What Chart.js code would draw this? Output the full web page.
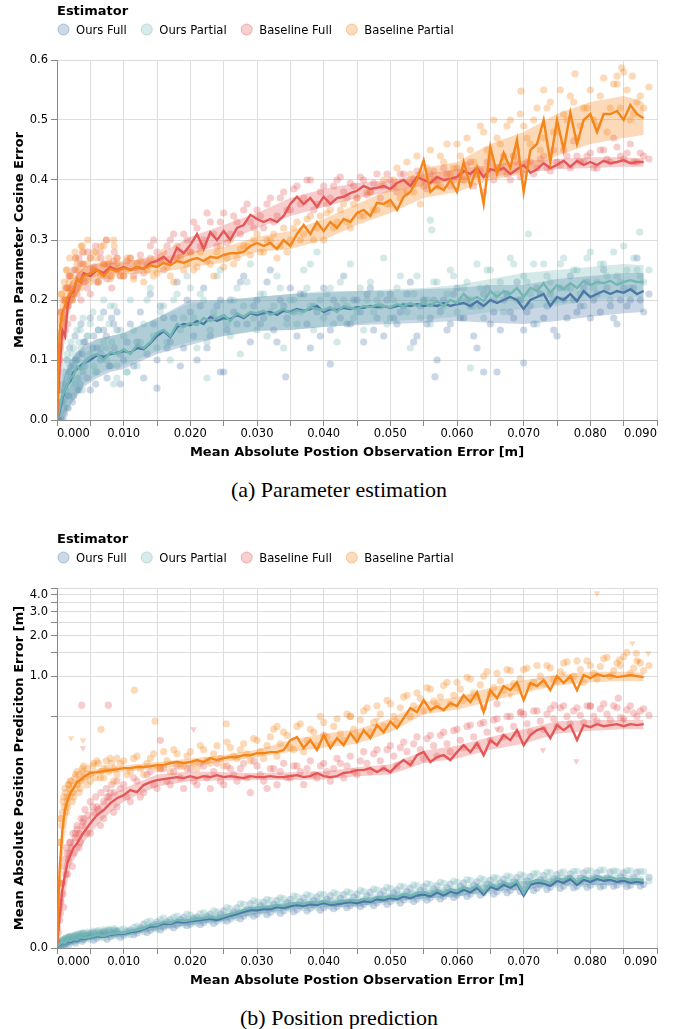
<!DOCTYPE html>
<html>
<head>
<meta charset="utf-8">
<title>Estimator comparison</title>
<script src="https://cdn.jsdelivr.net/npm/chart.js@4.4.1/dist/chart.umd.min.js"></script>
<style>
html,body{margin:0;padding:0;background:#fff;width:678px;height:1029px;overflow:hidden;position:relative;}
#c1{position:absolute;left:0;top:0;}
#c2{position:absolute;left:0;top:528px;}
.cap{position:absolute;left:0;width:678px;text-align:center;font-family:"Liberation Serif","Times New Roman",serif;font-size:22px;line-height:26px;color:#000;}
</style>
</head>
<body>
<canvas id="c1" width="678" height="470"></canvas>
<div class="cap" style="top:477px">(a) Parameter estimation</div>
<canvas id="c2" width="678" height="470"></canvas>
<div class="cap" style="top:1005px">(b) Position prediction</div>
<script>
// ================= DATA =================
const LEGEND_TITLE = 'Estimator';
const SERIES = ['Ours Full', 'Ours Partial', 'Baseline Full', 'Baseline Partial'];
const X_TITLE = 'Mean Absolute Postion Observation Error [m]';
const YA_TITLE = 'Mean Parameter Cosine Error';
const YB_TITLE = 'Mean Absolute Position Prediciton Error [m]';

const XTICKS = [0,0.005,0.01,0.015,0.02,0.025,0.03,0.035,0.04,0.045,0.05,0.055,0.06,0.065,0.07,0.075,0.08,0.085,0.09];
const XLABELS = ['0.000','','0.010','','0.020','','0.030','','0.040','','0.050','','0.060','','0.070','','0.080','','0.090'];
const YA_TICKS = [0,0.1,0.2,0.3,0.4,0.5,0.6];
const YA_LABELS = ['0.0','0.1','0.2','0.3','0.4','0.5','0.6'];
const YB_TICKS = [0,0.5,1,1.5,2,2.5,3,3.5,4,4.5];
const YB_LABELS = ['0.0','','1.0','','2.0','','3.0','','4.0',''];

// x positions of the mean lines (and first scatter group)
const X = [0,0.0004,0.0008,0.0012,0.0016,0.002,0.0025,0.003,0.0035,0.004,0.005,0.006,0.007,0.008,0.009,
0.010,0.011,0.012,0.013,0.014,0.015,0.016,0.017,0.018,0.019,
0.020,0.021,0.022,0.023,0.024,0.025,0.026,0.027,0.028,0.029,
0.030,0.031,0.032,0.033,0.034,0.035,0.036,0.037,0.038,0.039,
0.040,0.041,0.042,0.043,0.044,0.045,0.046,0.047,0.048,0.049,
0.050,0.051,0.052,0.053,0.054,0.055,0.056,0.057,0.058,0.059,
0.060,0.061,0.062,0.063,0.064,0.065,0.066,0.067,0.068,0.069,
0.070,0.071,0.072,0.073,0.074,0.075,0.076,0.077,0.078,0.079,
0.080,0.081,0.082,0.083,0.084,0.085,0.086,0.087,0.088];
// x positions of the second scatter group
const SX = [0.0002,0.0006,0.001,0.0014,0.0018,0.0023,0.0028,0.0033,0.0038,0.0045,0.0055,0.0065,0.0075,0.0085,0.0095,
0.0105,0.0115,0.0125,0.0135,0.0145,0.0155,0.0165,0.0175,0.0185,0.0195,
0.0205,0.0215,0.0225,0.0235,0.0245,0.0255,0.0265,0.0275,0.0285,0.0295,
0.0305,0.0315,0.0325,0.0335,0.0345,0.0355,0.0365,0.0375,0.0385,0.0395,
0.0405,0.0415,0.0425,0.0435,0.0445,0.0455,0.0465,0.0475,0.0485,0.0495,
0.0505,0.0515,0.0525,0.0535,0.0545,0.0555,0.0565,0.0575,0.0585,0.0595,
0.0605,0.0615,0.0625,0.0635,0.0645,0.0655,0.0665,0.0675,0.0685,0.0695,
0.0705,0.0715,0.0725,0.0735,0.0745,0.0755,0.0765,0.0775,0.0785,0.0795,
0.0805,0.0815,0.0825,0.0835,0.0845,0.0855,0.0865,0.0875,0.0888];
// x positions of the dense low-error scatter group
const LX = [0.0001,0.0003,0.0005,0.0007,0.0009,0.0011,0.0013,0.0015,0.0017,0.0019,0.0021,0.0024,0.0027,0.003,0.0033,
0.0036,0.0039,0.0042,0.0046,0.005,0.0054,0.0058,0.0062,0.0066,0.007,0.0074,0.0078,0.0082,0.0086,0.009];
// x positions of the confidence band edges
const BX = [0,0.001,0.002,0.004,0.006,0.008,0.01,0.015,0.02,0.025,0.03,0.035,0.04,0.045,0.05,0.055,0.06,0.065,0.07,0.075,0.08,0.085,0.088];

// ---------- (a) Parameter estimation ----------
const A_OF = [0.0,0.015,0.035,0.05,0.06,0.065,0.08,0.085,0.09,0.095,0.1,0.108,0.105,0.11,0.112,
0.115,0.112,0.12,0.118,0.128,0.14,0.148,0.138,0.155,0.16,
0.158,0.165,0.16,0.172,0.165,0.17,0.168,0.175,0.17,0.178,
0.175,0.178,0.18,0.175,0.182,0.18,0.185,0.182,0.185,0.19,
0.18,0.185,0.183,0.187,0.185,0.188,0.187,0.19,0.188,0.19,
0.187,0.19,0.192,0.19,0.193,0.19,0.192,0.19,0.195,0.19,
0.193,0.195,0.19,0.198,0.19,0.2,0.195,0.2,0.205,0.2,
0.185,0.2,0.205,0.21,0.19,0.205,0.2,0.21,0.198,0.215,
0.205,0.21,0.215,0.21,0.215,0.212,0.218,0.21,0.215];
const A_OP = [0.0,0.02,0.04,0.05,0.06,0.07,0.075,0.09,0.085,0.095,0.105,0.11,0.10,0.113,0.11,
0.118,0.11,0.125,0.12,0.13,0.145,0.15,0.14,0.16,0.155,
0.162,0.158,0.17,0.165,0.17,0.175,0.165,0.178,0.172,0.18,
0.178,0.182,0.175,0.18,0.185,0.178,0.183,0.18,0.188,0.185,
0.183,0.188,0.18,0.19,0.187,0.185,0.19,0.188,0.192,0.19,
0.188,0.193,0.19,0.195,0.19,0.195,0.19,0.198,0.19,0.2,
0.195,0.21,0.2,0.205,0.198,0.215,0.205,0.215,0.21,0.22,
0.205,0.22,0.215,0.228,0.212,0.225,0.218,0.228,0.22,0.232,
0.225,0.23,0.228,0.232,0.225,0.23,0.233,0.23,0.23];
const A_BF = [0.005,0.09,0.15,0.14,0.19,0.21,0.215,0.235,0.23,0.245,0.24,0.25,0.245,0.255,0.25,
0.255,0.25,0.255,0.252,0.262,0.265,0.272,0.262,0.287,0.278,
0.292,0.31,0.285,0.313,0.30,0.315,0.30,0.32,0.325,0.342,
0.335,0.33,0.335,0.33,0.34,0.36,0.372,0.36,0.37,0.355,
0.372,0.36,0.37,0.372,0.378,0.382,0.39,0.385,0.387,0.39,
0.385,0.395,0.40,0.39,0.405,0.40,0.395,0.405,0.40,0.402,
0.405,0.415,0.41,0.42,0.405,0.418,0.415,0.42,0.41,0.418,
0.425,0.412,0.418,0.428,0.42,0.425,0.432,0.422,0.432,0.425,
0.43,0.425,0.432,0.428,0.43,0.433,0.428,0.43,0.43];
const A_BP = [0.005,0.15,0.18,0.19,0.205,0.21,0.22,0.235,0.23,0.24,0.245,0.25,0.24,0.252,0.248,
0.253,0.25,0.255,0.252,0.258,0.255,0.262,0.258,0.265,0.262,
0.267,0.27,0.265,0.272,0.27,0.275,0.278,0.278,0.28,0.29,
0.295,0.29,0.295,0.285,0.30,0.29,0.31,0.325,0.31,0.33,
0.315,0.33,0.32,0.335,0.33,0.345,0.35,0.34,0.362,0.36,
0.367,0.35,0.372,0.38,0.40,0.433,0.38,0.39,0.383,0.40,
0.38,0.43,0.39,0.42,0.36,0.455,0.41,0.445,0.42,0.467,
0.38,0.45,0.46,0.50,0.43,0.50,0.45,0.512,0.46,0.50,
0.51,0.48,0.51,0.51,0.515,0.50,0.525,0.51,0.503];

const A_OF_LO = [0,0.0,0.025,0.055,0.07,0.08,0.085,0.11,0.125,0.14,0.148,0.15,0.155,0.158,0.16,0.162,0.165,0.162,0.16,0.165,0.172,0.178,0.18];
const A_OF_HI = [0.01,0.07,0.1,0.125,0.135,0.14,0.145,0.17,0.2,0.2,0.205,0.21,0.212,0.215,0.215,0.218,0.22,0.225,0.225,0.235,0.24,0.245,0.245];
const A_OP_LO = [0,0.01,0.03,0.06,0.075,0.085,0.09,0.115,0.13,0.14,0.15,0.15,0.155,0.16,0.165,0.168,0.172,0.18,0.185,0.19,0.2,0.205,0.205];
const A_OP_HI = [0.01,0.07,0.1,0.12,0.135,0.14,0.145,0.17,0.195,0.2,0.205,0.21,0.215,0.215,0.218,0.22,0.225,0.235,0.245,0.25,0.255,0.26,0.258];
const A_BF_LO = [0,0.12,0.19,0.23,0.24,0.245,0.245,0.255,0.275,0.295,0.32,0.34,0.355,0.37,0.38,0.39,0.40,0.405,0.412,0.418,0.42,0.422,0.422];
const A_BF_HI = [0.01,0.18,0.23,0.255,0.26,0.262,0.262,0.275,0.305,0.325,0.345,0.37,0.385,0.395,0.40,0.41,0.418,0.425,0.432,0.435,0.438,0.438,0.436];
const A_BP_LO = [0,0.15,0.19,0.225,0.235,0.24,0.242,0.245,0.255,0.262,0.28,0.285,0.30,0.325,0.345,0.37,0.38,0.40,0.41,0.44,0.46,0.47,0.475];
const A_BP_HI = [0.01,0.21,0.23,0.255,0.262,0.265,0.265,0.27,0.28,0.288,0.305,0.315,0.335,0.36,0.385,0.42,0.43,0.46,0.48,0.51,0.53,0.54,0.53];

const A_OF_S1 = [0.01,0.03,0.0,0.07,0.02,0.09,0.04,0.1,0.06,0.13,0.05,0.12,0.15,0.09,0.18,
0.1,0.16,0.13,0.07,0.21,0.1,0.17,0.13,0.23,0.12,
0.18,0.1,0.22,0.14,0.19,0.08,0.2,0.16,0.24,0.13,
0.2,0.17,0.25,0.13,0.19,0.22,0.14,0.21,0.12,0.18,
0.22,0.15,0.19,0.24,0.16,0.2,0.13,0.22,0.17,0.14,
0.21,0.16,0.19,0.23,0.14,0.2,0.17,0.1,0.2,0.16,
0.22,0.17,0.19,0.12,0.21,0.16,0.08,0.2,0.18,0.23,
0.15,0.19,0.22,0.17,0.21,0.14,0.2,0.24,0.18,0.22,
0.17,0.21,0.25,0.19,0.16,0.22,0.2,0.27,0.18];
const A_OF_S2 = [0.0,0.06,0.02,0.04,0.08,0.03,0.1,0.05,0.11,0.07,0.14,0.1,0.07,0.16,0.11,
0.13,0.09,0.18,0.11,0.16,0.19,0.12,0.17,0.09,0.2,
0.14,0.19,0.12,0.17,0.2,0.15,0.18,0.23,0.16,0.19,
0.16,0.23,0.15,0.2,0.17,0.18,0.21,0.16,0.19,0.14,
0.18,0.2,0.17,0.16,0.2,0.18,0.21,0.15,0.19,0.2,
0.17,0.18,0.21,0.13,0.19,0.16,0.2,0.18,0.15,0.21,
0.17,0.2,0.14,0.19,0.22,0.18,0.15,0.21,0.17,0.2,
0.18,0.16,0.21,0.19,0.15,0.22,0.17,0.2,0.19,0.23,
0.2,0.18,0.22,0.17,0.2,0.19,0.22,0.2,0.21];
const A_OF_L = [0.02,0.0,0.05,0.03,0.08,0.01,0.06,0.1,0.04,0.12,0.07,0.09,0.14,0.05,0.11,
0.16,0.08,0.13,0.1,0.17,0.12,0.06,0.15,0.11,0.18,0.14,0.09,0.17,0.12,0.15];
const A_OF_OX = [0.0095,0.015,0.0245,0.0343,0.041,0.0567,0.064,0.070];
const A_OF_OY = [0.06,0.053,0.08,0.072,0.093,0.072,0.08,0.095];

const A_OP_S1 = [0.0,0.01,0.06,0.03,0.1,0.05,0.12,0.07,0.15,0.09,0.16,0.08,0.13,0.19,0.07,
0.14,0.2,0.09,0.16,0.22,0.12,0.19,0.1,0.21,0.17,
0.22,0.12,0.2,0.15,0.24,0.17,0.14,0.22,0.19,0.26,
0.15,0.21,0.18,0.24,0.12,0.2,0.16,0.25,0.19,0.28,
0.17,0.22,0.13,0.2,0.26,0.18,0.15,0.23,0.2,0.27,
0.17,0.22,0.19,0.12,0.24,0.2,0.16,0.23,0.19,0.25,
0.18,0.22,0.2,0.26,0.17,0.25,0.21,0.18,0.27,0.2,
0.24,0.21,0.16,0.26,0.23,0.2,0.27,0.22,0.25,0.19,
0.28,0.23,0.26,0.2,0.24,0.29,0.22,0.25,0.23];
const A_OP_S2 = [0.02,0.05,0.0,0.08,0.04,0.11,0.06,0.13,0.05,0.14,0.09,0.17,0.12,0.06,0.15,
0.08,0.15,0.13,0.2,0.14,0.18,0.13,0.2,0.15,0.24,
0.17,0.21,0.13,0.18,0.25,0.16,0.2,0.11,0.23,0.17,
0.21,0.14,0.19,0.22,0.16,0.2,0.18,0.22,0.15,0.2,
0.21,0.16,0.23,0.19,0.17,0.22,0.2,0.18,0.21,0.16,
0.2,0.24,0.18,0.21,0.17,0.2,0.23,0.19,0.21,0.24,
0.2,0.23,0.19,0.22,0.25,0.2,0.23,0.21,0.26,0.2,
0.23,0.26,0.21,0.24,0.2,0.26,0.22,0.25,0.21,0.27,
0.22,0.26,0.24,0.28,0.23,0.25,0.27,0.24,0.25];
const A_OP_L = [0.01,0.04,0.0,0.07,0.03,0.09,0.05,0.11,0.02,0.08,0.13,0.06,0.1,0.15,0.07,
0.12,0.17,0.09,0.14,0.11,0.18,0.08,0.15,0.12,0.2,0.1,0.16,0.13,0.19,0.09];
const A_OP_OX = [0.0105,0.0225,0.038,0.056,0.0562,0.0707,0.0874,0.062];
const A_OP_OY = [0.08,0.07,0.26,0.333,0.317,0.31,0.313,0.087];

const A_BF_S1 = [0.0,0.12,0.17,0.2,0.16,0.22,0.25,0.21,0.26,0.23,0.27,0.23,0.26,0.24,0.27,
0.24,0.27,0.25,0.245,0.29,0.28,0.25,0.3,0.27,0.31,
0.28,0.32,0.3,0.33,0.29,0.345,0.31,0.33,0.35,0.33,
0.35,0.32,0.37,0.34,0.38,0.35,0.39,0.37,0.40,0.36,
0.39,0.37,0.40,0.38,0.395,0.37,0.40,0.38,0.41,0.39,
0.40,0.38,0.41,0.395,0.415,0.39,0.41,0.40,0.42,0.39,
0.42,0.40,0.43,0.41,0.38,0.43,0.42,0.44,0.40,0.43,
0.41,0.43,0.42,0.44,0.415,0.43,0.45,0.42,0.44,0.43,
0.445,0.42,0.45,0.43,0.455,0.435,0.46,0.43,0.44];
const A_BF_S2 = [0.05,0.18,0.14,0.22,0.24,0.2,0.27,0.24,0.28,0.22,0.255,0.28,0.235,0.265,0.24,
0.265,0.24,0.275,0.26,0.3,0.265,0.29,0.31,0.28,0.3,
0.33,0.29,0.345,0.31,0.33,0.295,0.34,0.31,0.36,0.32,
0.34,0.36,0.33,0.37,0.35,0.385,0.36,0.40,0.35,0.38,
0.36,0.39,0.405,0.37,0.39,0.405,0.375,0.395,0.37,0.41,
0.39,0.41,0.38,0.40,0.41,0.385,0.415,0.39,0.41,0.40,
0.41,0.425,0.39,0.415,0.43,0.40,0.42,0.41,0.44,0.405,
0.43,0.41,0.435,0.42,0.45,0.425,0.44,0.465,0.43,0.44,
0.42,0.45,0.435,0.47,0.44,0.445,0.43,0.445,0.435];
const A_BF_L = [0.06,0.14,0.1,0.18,0.16,0.2,0.15,0.22,0.19,0.24,0.21,0.17,0.25,0.22,0.27,
0.2,0.26,0.23,0.28,0.21,0.25,0.29,0.23,0.27,0.24,0.3,0.26,0.22,0.28,0.25];

const A_BP_S1 = [0.0,0.17,0.2,0.22,0.19,0.24,0.21,0.26,0.22,0.28,0.23,0.27,0.29,0.235,0.27,
0.24,0.27,0.26,0.23,0.27,0.245,0.28,0.24,0.29,0.25,
0.28,0.255,0.29,0.26,0.28,0.255,0.3,0.27,0.29,0.275,
0.31,0.28,0.30,0.27,0.32,0.30,0.33,0.31,0.34,0.32,
0.30,0.35,0.33,0.36,0.32,0.37,0.34,0.38,0.35,0.40,
0.36,0.42,0.38,0.41,0.44,0.40,0.45,0.39,0.43,0.41,
0.46,0.40,0.45,0.42,0.48,0.44,0.47,0.43,0.50,0.45,
0.49,0.46,0.52,0.47,0.53,0.48,0.51,0.54,0.47,0.52,
0.55,0.49,0.57,0.52,0.56,0.58,0.50,0.53,0.52];
const A_BP_S2 = [0.1,0.21,0.17,0.25,0.23,0.2,0.27,0.25,0.29,0.26,0.28,0.24,0.26,0.3,0.24,
0.27,0.235,0.265,0.25,0.24,0.27,0.255,0.23,0.27,0.26,
0.25,0.28,0.265,0.24,0.29,0.27,0.26,0.285,0.29,0.3,
0.28,0.3,0.31,0.29,0.28,0.32,0.3,0.335,0.3,0.34,
0.345,0.32,0.35,0.33,0.36,0.34,0.38,0.35,0.39,0.36,
0.40,0.37,0.43,0.38,0.36,0.42,0.40,0.44,0.46,0.42,
0.44,0.47,0.43,0.49,0.45,0.50,0.46,0.49,0.44,0.51,
0.47,0.50,0.45,0.52,0.48,0.55,0.50,0.53,0.49,0.52,
0.50,0.54,0.48,0.56,0.52,0.55,0.51,0.54,0.555];
const A_BP_L = [0.12,0.18,0.16,0.21,0.19,0.23,0.2,0.25,0.22,0.27,0.24,0.21,0.28,0.25,0.23,
0.29,0.26,0.24,0.3,0.27,0.25,0.28,0.23,0.29,0.26,0.3,0.27,0.24,0.29,0.26];
const A_BP_OX = [0.0777,0.084,0.0847,0.0863,0.0696,0.073];
const A_BP_OY = [0.577,0.573,0.587,0.573,0.548,0.55];

// ---------- (b) Position prediction ----------
const B_OF = [0.0003,0.0006,0.0009,0.0008,0.0013,0.0011,0.0015,0.0013,0.0019,0.0017,0.0019,0.0023,0.0021,0.0025,0.0027,
0.0027,0.0031,0.0033,0.0038,0.0044,0.0045,0.0051,0.005,0.0056,0.0054,
0.0057,0.0059,0.0062,0.0064,0.0061,0.0067,0.0073,0.0078,0.0085,0.009,
0.009,0.0094,0.0093,0.01,0.0097,0.0103,0.0107,0.0104,0.011,0.0107,
0.0114,0.0108,0.011,0.0114,0.0118,0.0114,0.0121,0.0118,0.0129,0.0125,
0.0133,0.0129,0.014,0.0133,0.0144,0.0148,0.014,0.0157,0.0144,0.016,
0.0152,0.0169,0.0157,0.0178,0.0148,0.0183,0.017,0.0192,0.0178,0.0198,
0.0143,0.0192,0.0202,0.0198,0.0187,0.0213,0.0202,0.0223,0.0192,0.0218,
0.0207,0.0223,0.0213,0.0218,0.0207,0.0213,0.0202,0.0207,0.0202];
const B_OP = [0.00034,0.0007,0.00107,0.00089,0.00145,0.00126,0.00165,0.00145,0.00205,0.00185,0.00205,0.00247,0.00226,0.00268,0.0029,
0.0029,0.00334,0.00357,0.00404,0.00477,0.00477,0.00555,0.00528,0.00608,0.0058,
0.00608,0.00636,0.00664,0.00692,0.00664,0.00721,0.0078,0.0084,0.0091,0.0097,
0.0097,0.01005,0.01005,0.01075,0.0104,0.0111,0.0115,0.0111,0.0118,0.0115,
0.0122,0.0115,0.0118,0.0122,0.0126,0.0122,0.013,0.0126,0.0138,0.0134,
0.0142,0.0138,0.015,0.0142,0.0154,0.0159,0.015,0.0168,0.0154,0.0172,
0.0163,0.0182,0.0168,0.0191,0.0159,0.0196,0.0182,0.0206,0.0191,0.0212,
0.0154,0.0206,0.0217,0.0212,0.0201,0.0228,0.0217,0.0239,0.0206,0.0234,
0.0222,0.0239,0.0228,0.0234,0.0222,0.0228,0.0217,0.0222,0.0217];
const B_BF = [0.0005,0.0075,0.0168,0.0245,0.033,0.0385,0.045,0.049,0.055,0.061,0.073,0.0855,0.094,0.107,0.117,
0.124,0.136,0.131,0.149,0.157,0.163,0.166,0.169,0.172,0.169,
0.175,0.169,0.175,0.172,0.178,0.172,0.175,0.172,0.169,0.175,
0.172,0.172,0.175,0.172,0.172,0.175,0.178,0.172,0.175,0.185,
0.175,0.172,0.175,0.185,0.188,0.195,0.195,0.202,0.188,0.202,
0.188,0.213,0.233,0.213,0.254,0.268,0.225,0.246,0.254,0.233,
0.268,0.303,0.268,0.314,0.254,0.331,0.303,0.361,0.331,0.394,
0.303,0.361,0.394,0.408,0.343,0.43,0.394,0.43,0.331,0.43,
0.415,0.437,0.422,0.43,0.437,0.422,0.437,0.43,0.437];
const B_BP = [0.0005,0.028,0.064,0.094,0.113,0.129,0.141,0.157,0.163,0.172,0.185,0.188,0.191,0.195,0.198,
0.202,0.202,0.206,0.206,0.209,0.213,0.213,0.221,0.225,0.221,
0.225,0.233,0.225,0.241,0.233,0.241,0.246,0.246,0.254,0.254,
0.263,0.263,0.268,0.268,0.278,0.331,0.349,0.288,0.331,0.278,
0.361,0.288,0.343,0.303,0.374,0.320,0.394,0.343,0.43,0.38,
0.456,0.408,0.485,0.577,0.538,0.662,0.557,0.597,0.557,0.629,
0.597,0.721,0.64,0.76,0.538,0.786,0.685,0.843,0.786,0.902,
0.662,0.887,0.843,0.934,0.786,1.0,0.887,1.0,0.786,1.017,
0.966,1.035,1.0,1.017,0.983,1.0,1.017,1.0,0.983];

const B_OF_LO = [0,0.0004,0.0007,0.0012,0.0017,0.0019,0.0022,0.0036,0.0048,0.0058,0.0078,0.0092,0.01,0.0102,0.012,0.0132,0.014,0.0162,0.017,0.019,0.019,0.0195,0.019];
const B_OF_HI = [0.0005,0.0013,0.0016,0.0023,0.0028,0.0031,0.0033,0.0053,0.0067,0.0078,0.0103,0.0117,0.0127,0.013,0.015,0.0165,0.0175,0.0198,0.0212,0.023,0.023,0.023,0.0225];
const B_OP_LO = [0,0.0006,0.0009,0.0014,0.0019,0.0021,0.0024,0.004,0.0052,0.0063,0.0085,0.0098,0.0108,0.011,0.0128,0.0142,0.015,0.0175,0.0185,0.0205,0.0205,0.021,0.0205];
const B_OP_HI = [0.0006,0.0015,0.0018,0.0025,0.003,0.0033,0.0036,0.0058,0.0072,0.0083,0.011,0.0125,0.0135,0.0138,0.0158,0.0175,0.0185,0.021,0.0225,0.0245,0.0245,0.0245,0.024];
const B_BF_LO = [0,0.012,0.03,0.05,0.07,0.09,0.11,0.145,0.16,0.162,0.163,0.163,0.165,0.175,0.18,0.22,0.24,0.28,0.31,0.37,0.39,0.4,0.4];
const B_BF_HI = [0.001,0.03,0.05,0.075,0.1,0.125,0.14,0.18,0.19,0.188,0.185,0.188,0.19,0.205,0.215,0.275,0.3,0.35,0.4,0.46,0.47,0.47,0.47];
const B_BP_LO = [0,0.05,0.11,0.16,0.18,0.185,0.19,0.2,0.21,0.225,0.245,0.27,0.29,0.31,0.38,0.52,0.56,0.65,0.75,0.85,0.9,0.92,0.92];
const B_BP_HI = [0.001,0.11,0.15,0.19,0.2,0.205,0.212,0.225,0.24,0.255,0.28,0.33,0.37,0.4,0.48,0.64,0.7,0.82,0.93,1.02,1.08,1.08,1.06];

const B_OF_S1 = [0.0004,0.0009,0.0013,0.0007,0.0019,0.0012,0.0022,0.0014,0.0026,0.0016,0.0027,0.0018,0.003,0.0021,0.0033,
0.0024,0.0036,0.0029,0.005,0.0035,0.0056,0.0042,0.0062,0.0047,0.0068,
0.005,0.007,0.0054,0.0078,0.0058,0.0088,0.0064,0.0098,0.0072,0.0112,
0.0078,0.0118,0.0083,0.0125,0.0088,0.0128,0.0092,0.0134,0.0096,0.0138,
0.0098,0.0142,0.0102,0.0148,0.0106,0.015,0.011,0.0158,0.0116,0.0164,
0.012,0.0168,0.0126,0.0176,0.013,0.0182,0.0135,0.0188,0.014,0.0196,
0.0145,0.0202,0.015,0.0208,0.0155,0.0216,0.016,0.0222,0.0166,0.023,
0.017,0.0236,0.0176,0.0242,0.018,0.0248,0.0186,0.0252,0.0185,0.0258,
0.019,0.026,0.0188,0.0262,0.0192,0.0258,0.019,0.0262,0.0195];
const B_OF_S2 = [0.0001,0.0007,0.0003,0.0012,0.0006,0.0016,0.0009,0.002,0.0012,0.0023,0.0014,0.0026,0.0016,0.0029,0.002,
0.0033,0.0025,0.0041,0.003,0.0048,0.0036,0.0056,0.0041,0.0062,0.0046,
0.0066,0.0049,0.0072,0.0052,0.0078,0.0058,0.0084,0.0064,0.0092,0.0072,
0.0105,0.0076,0.011,0.008,0.0116,0.0085,0.012,0.0088,0.0125,0.009,
0.0128,0.0095,0.0132,0.0098,0.0136,0.0102,0.0142,0.0105,0.0148,0.011,
0.0155,0.0115,0.016,0.012,0.0165,0.0125,0.0172,0.013,0.0178,0.0136,
0.0185,0.014,0.019,0.0145,0.0196,0.015,0.0202,0.0156,0.0208,0.016,
0.0212,0.0165,0.0218,0.017,0.0222,0.0175,0.0225,0.0178,0.0228,0.018,
0.0232,0.0182,0.023,0.0185,0.0235,0.0184,0.0232,0.0186,0.0232];
const B_OF_L = [0.0001,0.0005,0.0009,0.0004,0.0012,0.0008,0.0015,0.001,0.0017,0.0013,0.0019,0.0015,0.0021,0.0017,0.0023,
0.0019,0.0025,0.0021,0.0027,0.0023,0.0029,0.0025,0.003,0.0026,0.0032,0.0028,0.0033,0.0029,0.0035,0.003];

const B_OP_S1 = [0.0002,0.0012,0.0005,0.0018,0.001,0.0022,0.0011,0.0025,0.0015,0.0028,0.0016,0.0032,0.0019,0.0035,0.0024,
0.0038,0.0026,0.0045,0.0032,0.0058,0.0038,0.0066,0.0045,0.0072,0.005,
0.0075,0.0052,0.0082,0.0058,0.0085,0.006,0.0094,0.0068,0.011,0.0078,
0.0118,0.0085,0.0125,0.009,0.013,0.0095,0.0138,0.0098,0.0142,0.01,
0.0148,0.0102,0.015,0.0108,0.0155,0.011,0.016,0.0115,0.0168,0.012,
0.0175,0.0125,0.0182,0.013,0.0188,0.0135,0.0195,0.014,0.02,0.0148,
0.0205,0.0155,0.0215,0.016,0.022,0.0165,0.0228,0.017,0.0235,0.0178,
0.024,0.0185,0.0255,0.019,0.026,0.0195,0.0265,0.02,0.0268,0.0198,
0.027,0.0202,0.0275,0.0205,0.0268,0.02,0.027,0.0205,0.0265];
const B_OP_S2 = [0.0008,0.0004,0.0016,0.0008,0.0021,0.0013,0.0024,0.0017,0.0029,0.0018,0.003,0.0021,0.0034,0.0023,0.0036,
0.0028,0.0042,0.0036,0.0055,0.004,0.0062,0.0048,0.0068,0.0054,0.0078,
0.0056,0.0079,0.0062,0.0088,0.0066,0.0099,0.0072,0.0112,0.0082,0.0124,
0.0088,0.0128,0.0093,0.0135,0.0098,0.0142,0.0102,0.0148,0.0105,0.015,
0.0106,0.0156,0.0112,0.016,0.0116,0.0166,0.012,0.0172,0.0128,0.018,
0.0132,0.0186,0.0138,0.0192,0.0142,0.0198,0.0148,0.0206,0.0155,0.0212,
0.0158,0.022,0.0165,0.0226,0.0172,0.0232,0.0178,0.024,0.0182,0.0248,
0.019,0.0252,0.0192,0.0262,0.0198,0.0258,0.0202,0.0268,0.02,0.0272,
0.0208,0.0275,0.0205,0.027,0.021,0.0272,0.0208,0.0268,0.0212];
const B_OP_L = [0.0003,0.0008,0.0012,0.0006,0.0015,0.001,0.0018,0.0013,0.002,0.0016,0.0022,0.0018,0.0025,0.002,0.0027,
0.0022,0.0029,0.0024,0.0031,0.0026,0.0033,0.0027,0.0035,0.0029,0.0036,0.003,0.0038,0.0031,0.0039,0.0033];

const B_BF_S1 = [0.001,0.006,0.02,0.035,0.025,0.05,0.04,0.065,0.05,0.08,0.06,0.1,0.08,0.13,0.1,
0.15,0.11,0.16,0.13,0.19,0.14,0.2,0.15,0.21,0.14,
0.2,0.15,0.21,0.14,0.22,0.15,0.2,0.16,0.22,0.13,
0.21,0.16,0.2,0.15,0.22,0.17,0.21,0.15,0.23,0.17,
0.22,0.16,0.24,0.17,0.25,0.18,0.27,0.19,0.28,0.2,
0.3,0.21,0.32,0.22,0.35,0.24,0.36,0.25,0.38,0.27,
0.4,0.29,0.43,0.3,0.45,0.33,0.48,0.35,0.5,0.37,
0.52,0.38,0.55,0.4,0.57,0.42,0.6,0.44,0.58,0.45,
0.6,0.46,0.62,0.47,0.58,0.48,0.6,0.5,0.57];
const B_BF_S2 = [0.003,0.012,0.01,0.045,0.04,0.03,0.06,0.045,0.07,0.06,0.09,0.07,0.12,0.09,0.14,
0.12,0.17,0.12,0.18,0.15,0.2,0.16,0.19,0.17,0.2,
0.16,0.22,0.17,0.19,0.16,0.21,0.18,0.2,0.17,0.23,
0.18,0.14,0.2,0.19,0.17,0.21,0.19,0.2,0.18,0.21,
0.19,0.2,0.22,0.21,0.19,0.23,0.22,0.26,0.23,0.28,
0.25,0.29,0.27,0.31,0.28,0.34,0.3,0.36,0.31,0.39,
0.33,0.42,0.35,0.44,0.38,0.47,0.4,0.5,0.42,0.53,
0.44,0.55,0.46,0.52,0.48,0.58,0.5,0.55,0.51,0.6,
0.5,0.57,0.52,0.6,0.49,0.56,0.53,0.55,0.51];
const B_BF_L = [0.004,0.01,0.008,0.02,0.015,0.03,0.025,0.04,0.035,0.05,0.045,0.06,0.055,0.07,0.06,
0.08,0.075,0.095,0.085,0.11,0.1,0.12,0.095,0.13,0.11,0.14,0.12,0.15,0.13,0.16];
const B_BF_OX = [0.0037,0.0077,0.0155,0.040,0.064,0.066,0.0696,0.0746,0.080,0.0842];
const B_BF_OY = [0.607,0.607,0.33,0.36,0.58,0.62,0.54,0.607,0.597,0.685];
const B_BF_TX = [0.0039,0.0205,0.066,0.0729,0.0779,0.085];
const B_BF_TY = [0.288,0.40,0.40,0.278,0.229,0.47];

const B_BP_S1 = [0.002,0.05,0.09,0.14,0.1,0.16,0.12,0.19,0.14,0.21,0.16,0.23,0.17,0.24,0.18,
0.23,0.19,0.25,0.18,0.24,0.2,0.27,0.19,0.26,0.21,
0.27,0.2,0.28,0.22,0.3,0.21,0.29,0.24,0.31,0.23,
0.33,0.24,0.35,0.25,0.38,0.29,0.42,0.27,0.4,0.3,
0.45,0.31,0.48,0.33,0.5,0.36,0.55,0.38,0.6,0.42,
0.62,0.45,0.7,0.5,0.75,0.55,0.8,0.6,0.85,0.62,
0.9,0.66,0.95,0.7,1.0,0.74,1.05,0.78,1.1,0.82,
1.12,0.85,1.2,0.88,1.15,0.92,1.25,0.95,1.3,0.9,
1.2,0.95,1.35,1.0,1.25,1.4,1.05,1.3,1.1];
const B_BP_S2 = [0.02,0.08,0.12,0.09,0.15,0.11,0.18,0.13,0.2,0.15,0.22,0.17,0.2,0.16,0.22,
0.18,0.24,0.2,0.22,0.26,0.2,0.23,0.28,0.21,0.25,
0.22,0.3,0.23,0.26,0.24,0.32,0.25,0.28,0.26,0.34,
0.27,0.3,0.4,0.31,0.36,0.28,0.44,0.33,0.38,0.5,
0.35,0.42,0.37,0.52,0.4,0.47,0.58,0.45,0.52,0.66,
0.5,0.58,0.72,0.6,0.68,0.82,0.65,0.7,0.9,0.72,
0.8,0.98,0.75,0.86,1.08,0.82,0.92,1.12,0.88,0.96,
1.15,0.9,1.0,1.2,0.95,1.08,1.28,1.0,1.12,1.3,
1.05,1.18,1.38,1.1,1.2,1.5,1.15,1.25,1.2];
const B_BP_L = [0.02,0.05,0.08,0.07,0.11,0.1,0.13,0.12,0.15,0.14,0.16,0.13,0.17,0.15,0.18,
0.16,0.19,0.17,0.2,0.18,0.21,0.17,0.22,0.19,0.2,0.23,0.19,0.22,0.2,0.24];
const B_BP_OX = [0.0066,0.0116,0.0147,0.0254,0.033,0.044,0.0844,0.0869];
const B_BP_OY = [0.40,0.786,0.46,0.44,0.42,0.50,1.32,1.48];
const B_BP_TX = [0.0021,0.0039,0.048,0.056,0.062,0.068,0.076,0.081,0.0863,0.0872,0.0887];
const B_BP_TY = [0.343,0.331,0.47,0.56,0.70,0.72,1.05,4.12,1.76,1.29,1.48];

// ================= RENDERING =================
const COLORS = ['#4c78a8', '#72b7b2', '#e45756', '#f58518'];
const FONT = "'DejaVu Sans', 'Noto Sans', sans-serif";
Chart.defaults.font.family = FONT;
Chart.defaults.color = '#000';

function rgba(hex, a) {
  const n = parseInt(hex.slice(1), 16);
  return 'rgba(' + ((n >> 16) & 255) + ',' + ((n >> 8) & 255) + ',' + (n & 255) + ',' + a + ')';
}
function pts(xs, ys) { return xs.map((x, i) => ({x: x, y: ys[i]})); }

// symmetric-log value axis (linear near zero, logarithmic further out)
const SYMLOG_CONSTANT = 0.01;
class SymlogScale extends Chart.LinearScale {
  _tf(v) { return Math.sign(v) * Math.log1p(Math.abs(v) / SYMLOG_CONSTANT); }
  getPixelForValue(value) {
    const a = this._tf(this.min), b = this._tf(this.max);
    return this.getPixelForDecimal((this._tf(value) - a) / (b - a));
  }
  getValueForPixel(pixel) {
    const a = this._tf(this.min), b = this._tf(this.max);
    const t = a + this.getDecimalForPixel(pixel) * (b - a);
    return Math.sign(t) * SYMLOG_CONSTANT * Math.expm1(Math.abs(t));
  }
}
SymlogScale.id = 'symlog';
SymlogScale.defaults = Chart.LinearScale.defaults;
Chart.register(SymlogScale);

const legendPlugin = {
  id: 'estimatorLegend',
  afterDraw(chart) {
    const ctx = chart.ctx;
    ctx.save();
    ctx.textAlign = 'left';
    ctx.textBaseline = 'alphabetic';
    ctx.fillStyle = '#000';
    ctx.font = 'bold 13px ' + FONT;
    ctx.fillText(LEGEND_TITLE, 57, 15);
    ctx.font = '11.6px ' + FONT;
    let cx = 63.5;
    SERIES.forEach((name, i) => {
      ctx.beginPath();
      ctx.arc(cx, 29.5, 5.5, 0, Math.PI * 2);
      ctx.fillStyle = rgba(COLORS[i], 0.28);
      ctx.fill();
      ctx.lineWidth = 1;
      ctx.strokeStyle = rgba(COLORS[i], 0.4);
      ctx.stroke();
      ctx.fillStyle = '#000';
      ctx.fillText(name, cx + 12.5, 33.5);
      cx += 12.5 + ctx.measureText(name).width + 20;
    });
    ctx.restore();
  }
};

function gridColor(c) { return (c.tick && c.tick.value === 0) ? 'rgba(0,0,0,0)' : '#ddd'; }

function xScale() {
  return {
    type: 'linear', min: XTICKS[0], max: XTICKS[XTICKS.length - 1],
    afterBuildTicks: s => { s.ticks = XTICKS.map(v => ({value: v})); },
    afterFit: s => { s.height = 50; },
    ticks: {autoSkip: false, maxRotation: 0, minRotation: 0, align: 'inner', padding: 1,
      font: {size: 11.5}, color: '#000', callback: (v, i) => XLABELS[i]},
    grid: {color: gridColor, lineWidth: 1, tickColor: '#888', tickLength: 6, drawTicks: true},
    border: {color: '#888', width: 1},
    title: {display: true, text: X_TITLE, color: '#000', font: {size: 13, weight: 'bold'}, padding: {top: 0, bottom: 10}}
  };
}
function yScale(type, ticks, labels, title) {
  return {
    type: type, min: ticks[0], max: ticks[ticks.length - 1],
    afterBuildTicks: s => { s.ticks = ticks.map(v => ({value: v})); },
    afterFit: s => { s.width = 57; },
    ticks: {autoSkip: false, padding: 3, font: {size: 11.5}, color: '#000', callback: (v, i) => labels[i]},
    grid: {color: gridColor, lineWidth: 1, tickColor: '#888', tickLength: 6, drawTicks: true},
    border: {color: '#888', width: 1},
    title: {display: true, text: title, color: '#000', font: {size: 13, weight: 'bold'}, padding: {top: 12, bottom: 0}}
  };
}

function buildDatasets(S) {
  const ds = [];
  // points (drawn first)
  S.forEach((s, i) => {
    let p = pts(X, s.s1).concat(pts(SX, s.s2)).concat(pts(LX, s.l));
    if (s.ox) p = p.concat(pts(s.ox, s.oy));
    ds.push({type: 'scatter', data: p, backgroundColor: rgba(COLORS[i], 0.3), borderWidth: 0,
      pointRadius: 3.6, pointHoverRadius: 3.6, order: 30 - i});
    if (s.tx) {
      ds.push({type: 'scatter', data: pts(s.tx, s.ty), backgroundColor: rgba(COLORS[i], 0.3), borderWidth: 0,
        pointStyle: 'triangle', pointRotation: 180, pointRadius: 3.8, order: 25 - i});
    }
  });
  // confidence bands
  S.forEach((s, i) => {
    ds.push({type: 'line', data: pts(BX, s.lo), borderColor: 'rgba(0,0,0,0)', borderWidth: 0,
      pointRadius: 0, fill: false, tension: 0, order: 15 - i});
    ds.push({type: 'line', data: pts(BX, s.hi), borderColor: 'rgba(0,0,0,0)', borderWidth: 0,
      backgroundColor: rgba(COLORS[i], 0.3), pointRadius: 0, fill: '-1', tension: 0, order: 15 - i});
  });
  // mean lines (drawn last)
  S.forEach((s, i) => {
    ds.push({type: 'line', data: pts(X, s.line), borderColor: COLORS[i], borderWidth: 2.4,
      pointRadius: 0, fill: false, tension: 0, order: 5 - i});
  });
  return ds;
}

function makeChart(id, S, yOpts) {
  return new Chart(document.getElementById(id), {
    type: 'scatter',
    data: {datasets: buildDatasets(S)},
    options: {
      responsive: false, animation: false, devicePixelRatio: 1, events: [],
      layout: {padding: {top: 60, right: 21, left: 0, bottom: 0}},
      plugins: {legend: {display: false}, tooltip: {enabled: false}},
      scales: {x: xScale(), y: yOpts}
    },
    plugins: [legendPlugin]
  });
}

makeChart('c1', [
  {line: A_OF, lo: A_OF_LO, hi: A_OF_HI, s1: A_OF_S1, s2: A_OF_S2, l: A_OF_L, ox: A_OF_OX, oy: A_OF_OY},
  {line: A_OP, lo: A_OP_LO, hi: A_OP_HI, s1: A_OP_S1, s2: A_OP_S2, l: A_OP_L, ox: A_OP_OX, oy: A_OP_OY},
  {line: A_BF, lo: A_BF_LO, hi: A_BF_HI, s1: A_BF_S1, s2: A_BF_S2, l: A_BF_L},
  {line: A_BP, lo: A_BP_LO, hi: A_BP_HI, s1: A_BP_S1, s2: A_BP_S2, l: A_BP_L, ox: A_BP_OX, oy: A_BP_OY}
], yScale('linear', YA_TICKS, YA_LABELS, YA_TITLE));

makeChart('c2', [
  {line: B_OF, lo: B_OF_LO, hi: B_OF_HI, s1: B_OF_S1, s2: B_OF_S2, l: B_OF_L},
  {line: B_OP, lo: B_OP_LO, hi: B_OP_HI, s1: B_OP_S1, s2: B_OP_S2, l: B_OP_L},
  {line: B_BF, lo: B_BF_LO, hi: B_BF_HI, s1: B_BF_S1, s2: B_BF_S2, l: B_BF_L, ox: B_BF_OX, oy: B_BF_OY, tx: B_BF_TX, ty: B_BF_TY},
  {line: B_BP, lo: B_BP_LO, hi: B_BP_HI, s1: B_BP_S1, s2: B_BP_S2, l: B_BP_L, ox: B_BP_OX, oy: B_BP_OY, tx: B_BP_TX, ty: B_BP_TY}
], yScale('symlog', YB_TICKS, YB_LABELS, YB_TITLE));
</script>
</body>
</html>
